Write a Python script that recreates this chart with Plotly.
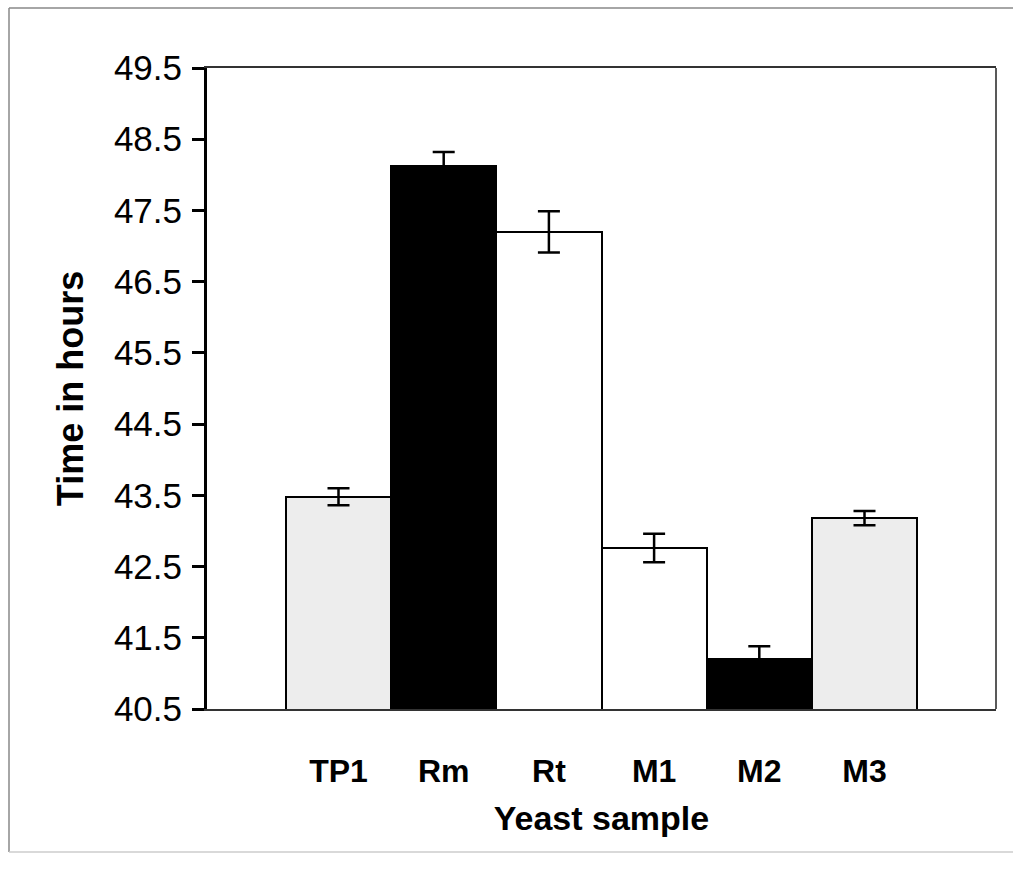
import plotly.graph_objects as go

samples = ["TP1", "Rm", "Rt", "M1", "M2", "M3"]
hours = [43.48, 48.12, 47.20, 42.76, 41.20, 43.18]
errors = [0.12, 0.20, 0.29, 0.20, 0.18, 0.10]
colors = ["#ededed", "#000000", "#ffffff", "#ffffff", "#000000", "#ededed"]
yticks = [40.5, 41.5, 42.5, 43.5, 44.5, 45.5, 46.5, 47.5, 48.5, 49.5]

W, H = 1013, 883
L, R, T, B = 207, 996, 68, 709

fig = go.Figure()
fig.add_trace(go.Bar(
    x=samples, y=hours,
    marker=dict(color=colors, line=dict(color="black", width=2)),
    error_y=dict(type="data", array=errors, visible=True,
                 color="black", thickness=2.5, width=11),
    width=1.0,
))

FONT = "Liberation Sans, Arial, sans-serif"

def px_x(p):
    return (p - L) / (R - L)

def px_y(p):
    return (B - p) / (B - T)

shapes = [
    # right frame of plot area
    dict(type="line", xref="paper", yref="paper", x0=1, x1=1, y0=0, y1=1,
         line=dict(color="#222222", width=1.5)),
    # outer picture frame
    dict(type="line", xref="paper", yref="paper", x0=px_x(9), x1=px_x(9),
         y0=px_y(8), y1=px_y(852), line=dict(color="#888888", width=1.5)),
    dict(type="line", xref="paper", yref="paper", x0=px_x(9), x1=px_x(1013),
         y0=px_y(8), y1=px_y(8), line=dict(color="#888888", width=1.5)),
    dict(type="line", xref="paper", yref="paper", x0=px_x(9), x1=px_x(1013),
         y0=px_y(852), y1=px_y(852), line=dict(color="#cccccc", width=1.5)),
]

fig.update_layout(
    width=W, height=H,
    margin=dict(l=L, r=W - R, t=T, b=H - B, autoexpand=False),
    paper_bgcolor="white", plot_bgcolor="white",
    showlegend=False,
    bargap=0,
    shapes=shapes,
    font=dict(family=FONT, color="black"),
)
fig.update_xaxes(
    range=[-1.25, 6.25],
    showline=True, linecolor="#333333", linewidth=1.5, mirror=True,
    showgrid=False, ticks="", zeroline=False,
    tickfont=dict(family=FONT, size=32, weight="bold", color="black"),
    ticklabelstandoff=33,
    title=dict(text="Yeast sample", font=dict(family=FONT, size=34, weight="bold"),
               standoff=18),
    automargin=False,
)
fig.update_yaxes(
    range=[40.5, 49.5],
    tickvals=yticks, ticktext=[f"{v:.1f}" for v in yticks],
    showline=True, linecolor="black", linewidth=3,
    ticks="outside", ticklen=12, tickwidth=3, tickcolor="black",
    showgrid=False, zeroline=False,
    tickfont=dict(family=FONT, size=35, color="black"),
    ticklabelstandoff=3,
    title=dict(text="Time in hours", font=dict(family=FONT, size=36, weight="bold"),
               standoff=20),
    automargin=False,
)

fig.write_html("out.html")
